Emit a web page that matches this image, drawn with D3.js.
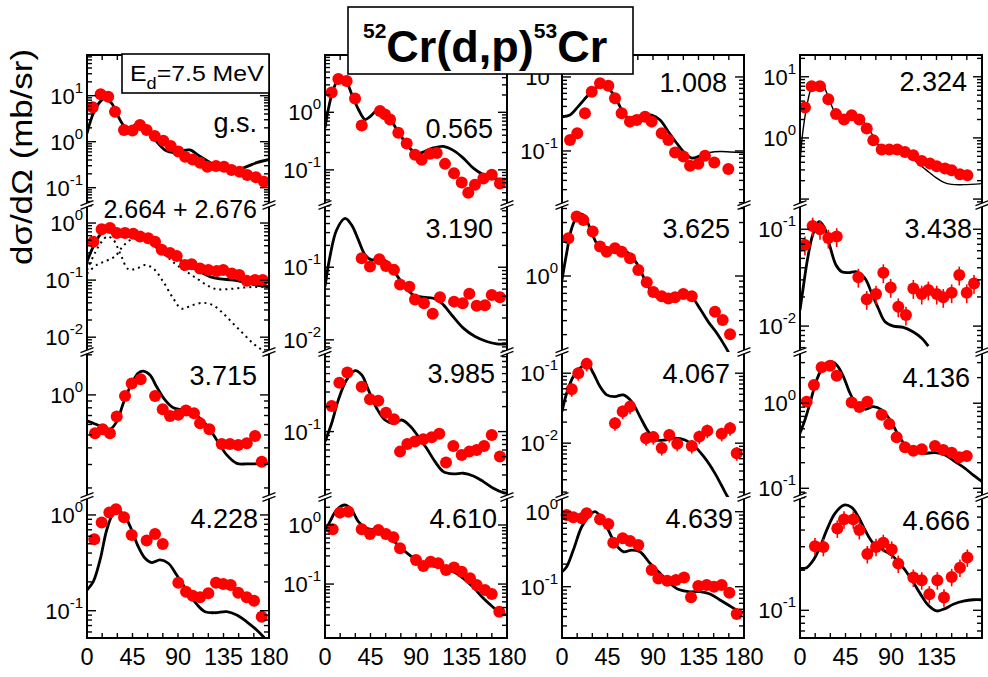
<!DOCTYPE html>
<html>
<head>
<meta charset="utf-8">
<script src="https://cdn.jsdelivr.net/npm/d3@7"></script>
<style>
  body { margin: 0; background: #fff; }
  svg { display: block; }
  text { font-family: "Liberation Sans", Arial, Helvetica, sans-serif; fill: #000; }
</style>
</head>
<body>
<svg id="fig" width="988" height="677"></svg>
<script>
// ---- angular distributions: [angle (deg, c.m.), dsigma/dOmega (mb/sr)] ----
const gsExp = [[5.6,5.6],[13.5,10.7],[21,9.5],[27.7,4.5],[36.6,1.8],[45,1.74],[52.4,2.3],[59,1.8],[67,1.33],[75.5,1.05],[82.8,0.81],[90.3,0.61],[97,0.47],[104.5,0.41],[111.8,0.35],[119,0.286],[127.6,0.296],[135.5,0.286],[143,0.243],[151,0.223],[158.5,0.189],[167,0.168],[175,0.135]];
const gsCalc = [[0,1.52],[6.2,4.1],[12.9,7.4],[17.8,8.8],[24.4,6.8],[31,3.5],[37.6,2.1],[43.2,2.0],[49.1,2.43],[54,2.5],[60.6,1.8],[68.9,1.0],[77.1,0.66],[85.3,0.58],[93.6,0.64],[101.9,0.66],[110,0.51],[120,0.37],[129.8,0.277],[138,0.234],[148,0.243],[158,0.286],[167.8,0.35],[180,0.41]];

const s0565Exp = [[6.6,2.2],[13.2,3.8],[21.4,3.5],[29.7,1.74],[36.3,0.59],[54.4,1.05],[59.3,0.92],[64.3,0.75],[72.5,0.44],[80.8,0.286],[89,0.183],[95.6,0.15],[103.8,0.19],[110.5,0.196],[118.7,0.127],[127.6,0.0875],[135.2,0.06],[141.7,0.04],[148.3,0.055],[156.6,0.071],[164.9,0.082],[173,0.058]];
const s0565Calc = [[0,0.54],[3.3,1.13],[8.2,2.5],[14.8,4.1],[19.8,3.8],[26.4,2.07],[33,1.13],[39.6,0.75],[44.5,0.84],[52.8,1.13],[59.3,1.05],[66,0.7],[74.2,0.41],[82.4,0.256],[90.7,0.19],[98.9,0.21],[107.1,0.24],[117,0.256],[126.9,0.218],[136.8,0.16],[146.7,0.107],[156.6,0.082],[164.9,0.071],[174.8,0.069],[180,0.069]];

const s1008Exp = [[7.9,0.141],[15.1,0.173],[22.7,0.323],[29.4,0.63],[37.6,0.82],[45.8,0.76],[52.4,0.515],[59,0.323],[67.2,0.249],[73.9,0.262],[82.1,0.29],[88.7,0.249],[98.6,0.173],[105.2,0.141],[111.8,0.095],[120,0.084],[126.6,0.063],[134.8,0.067],[141.4,0.086],[150.6,0.07],[164.5,0.057]];
const s1008Calc = [[0,0.29],[7.9,0.306],[16.1,0.4],[24.4,0.54],[31,0.68],[39.3,0.76],[45.8,0.7],[52.4,0.54],[59,0.36],[65.6,0.277],[72.2,0.285],[80.4,0.306],[88.7,0.306],[97,0.262],[105.2,0.182],[113.5,0.127],[121.7,0.093],[128.3,0.08],[136.5,0.086]];
const s1008CalcTail = [[136.5,0.086],[146.4,0.095],[156.3,0.098],[166.2,0.097],[180,0.095]];

const s2324Exp = [[4.9,3.15],[11.5,7.0],[19.8,7.0],[28,4.3],[35.6,2.45],[43.5,2.0],[51.1,2.35],[58.7,2.0],[66,1.43],[72.5,0.92],[80.8,0.645],[88.3,0.645],[96.2,0.645],[103.8,0.59],[112,0.52],[120.4,0.42],[128.6,0.38],[135.2,0.343],[143.4,0.315],[150,0.295],[158.2,0.254],[165.5,0.245]];
const s2324Calc = [[0,0.38],[2.6,1.18],[6.6,3.2],[11.5,6.5],[19.1,8.3],[23.7,6.9],[29.7,3.9],[36.3,2.35],[42.9,2.08],[49.5,2.27],[56.7,2.16],[64.3,1.72],[70.9,1.18],[77.5,0.76],[84.1,0.59],[92.3,0.555],[100.6,0.555],[108.8,0.49],[117,0.38],[125.3,0.295],[133.5,0.23],[141.7,0.19],[150,0.174],[161.5,0.172],[180,0.179]];

const s2664Exp = [[6.3,0.47],[14.5,0.78],[22.7,0.82],[29.4,0.67],[37.6,0.67],[45.8,0.65],[52.4,0.58],[60.6,0.54],[67.3,0.47],[73.9,0.34],[82.1,0.3],[88.7,0.265],[96.9,0.184],[103.5,0.19],[111.8,0.16],[120,0.15],[128.3,0.144],[134.8,0.15],[143.1,0.131],[150.6,0.123],[158,0.097],[166.2,0.1],[173.8,0.1]];
const s2664Calc = [[0,0.21],[6.3,0.39],[12.9,0.62],[19.5,0.78],[26,0.74],[32.6,0.68],[40.9,0.68],[49.2,0.68],[55.7,0.62],[64,0.47],[72.2,0.35],[82.1,0.29],[92,0.225],[101.9,0.177],[111.8,0.14],[121.6,0.115],[131.5,0.105],[144.7,0.1],[158,0.09],[167.8,0.082],[180,0.076]];
const s2664CalcA = [[0,0.15],[7.9,0.3],[14.5,0.47],[20.1,0.58],[26,0.51],[32.6,0.3],[40.9,0.155],[49.2,0.16],[57.4,0.184],[65.6,0.16],[75.5,0.093],[85.4,0.0475],[93.6,0.0316],[103.5,0.036],[115,0.04],[124.9,0.036],[134.8,0.026],[144.7,0.0172],[154.6,0.0115],[164.5,0.0077],[172.8,0.006],[180,0.0048]];
const s2664CalcB = [[0,0.13],[9.6,0.184],[19.5,0.22],[27.7,0.26],[35.9,0.4],[44.2,0.52],[52.4,0.54],[60.6,0.51],[68.9,0.36],[78.8,0.26],[88.7,0.184],[98.6,0.14],[108.5,0.107],[118.4,0.082],[128.3,0.069],[141.4,0.07],[154.6,0.074],[167.8,0.076],[180,0.076]];

const s3190Exp = [[36.3,0.133],[44.5,0.102],[53.7,0.129],[60.3,0.104],[68.2,0.092],[74.2,0.058],[83.4,0.054],[89,0.036],[97.9,0.032],[106.5,0.0228],[113.7,0.0386],[127.6,0.0336],[136.2,0.032],[142.7,0.043],[150,0.0294],[158.2,0.03],[164.9,0.0416],[173,0.0386]];
const s3190Calc = [[0,0.054],[4.9,0.14],[11.5,0.326],[19.8,0.47],[26.4,0.38],[33,0.238],[39.6,0.148],[46.2,0.126],[54.4,0.133],[62.6,0.113],[70.9,0.078],[79.1,0.054],[87.3,0.0416],[97.2,0.0386],[107.1,0.0374],[115.4,0.032],[125.3,0.022],[136.8,0.0145],[148.4,0.0111],[159.9,0.0095],[169.8,0.0088],[180,0.0088]];

const s3625Exp = [[6.3,2.17],[14.5,3.4],[21.1,3.16],[30.3,2.49],[37.6,1.83],[44.2,1.65],[52.4,1.77],[59,1.65],[67.3,1.44],[75.5,1.13],[83.8,0.88],[90.3,0.72],[98.6,0.66],[105.2,0.63],[111.8,0.645],[120,0.69],[128.3,0.66],[151.3,0.48],[158.9,0.405],[166.2,0.303]];
const s3625Calc = [[0,0.92],[4.6,1.6],[9.6,2.67],[16.1,3.5],[21.1,3.5],[27.7,2.67],[34.3,1.96],[40.9,1.71],[49.2,1.71],[57.4,1.77],[65.6,1.6],[73.9,1.3],[82.1,0.92],[88,0.74],[93.7,0.65],[101.9,0.63],[110.1,0.68],[120,0.7],[128.3,0.65],[136.5,0.51],[144.7,0.39],[153,0.31],[161.2,0.237],[170,0.17]];

const s3438Exp = [[4.9,0.0688],[12.5,0.108],[19.8,0.1],[28,0.081],[36.3,0.084],[57.7,0.032],[66,0.0189],[75.2,0.0214],[82.4,0.0356],[89.7,0.0251],[97.2,0.0158],[104.8,0.013],[112.1,0.0245],[120.4,0.0214],[126.9,0.0236],[135.2,0.0214],[141.7,0.0198],[150,0.0221],[157.5,0.0337],[164.9,0.0221],[172.1,0.0276]];
const s3438Calc = [[0,0.0146],[3.3,0.0255],[7.3,0.048],[12.5,0.087],[18.8,0.12],[23.7,0.106],[29.7,0.066],[35.6,0.0427],[41.2,0.0364],[47.8,0.0356],[56,0.0364],[64.3,0.0311],[70.9,0.0218],[77.5,0.0152],[84.1,0.0111],[92.3,0.01],[102.2,0.0097],[112.1,0.0087],[120.4,0.0075],[126.9,0.0062]];

const s3715Exp = [[7.9,0.515],[15.5,0.552],[22.7,0.515],[29.4,0.687],[37.6,0.98],[44.2,1.22],[53.1,1.31],[67.3,0.98],[74.9,0.78],[82.1,0.695],[90.3,0.71],[97.9,0.762],[105.8,0.728],[111.8,0.612],[121,0.552],[133.2,0.428],[141.4,0.428],[149.6,0.42],[158,0.433],[166.2,0.492],[172.8,0.315]];
const s3715Calc = [[0,0.64],[7.9,0.605],[16.1,0.572],[22.7,0.552],[29.4,0.63],[35.9,0.867],[44.2,1.22],[50.7,1.46],[55.7,1.51],[62.3,1.41],[68.9,1.15],[77.1,0.917],[85.4,0.8],[95.2,0.77],[103.5,0.736],[111.8,0.668],[120,0.572],[128.3,0.459],[138.2,0.354],[148.1,0.306],[158,0.303],[180,0.306]];

const s3985Exp = [[6.6,0.204],[14.2,0.389],[22.1,0.514],[36.3,0.348],[44.5,0.245],[52.7,0.236],[60.3,0.169],[68.2,0.141],[74.2,0.0574],[81.4,0.0711],[89,0.0759],[97.2,0.081],[105.5,0.0857],[113,0.094],[119.7,0.0424],[126.9,0.0673],[135.2,0.0524],[142.7,0.0574],[150,0.0602],[157.3,0.0673],[164.9,0.0912],[173,0.05]];
const s3985Calc = [[0,0.0759],[6.6,0.126],[13.2,0.241],[21.4,0.42],[29.7,0.543],[36.3,0.482],[42.9,0.318],[51.1,0.191],[59.3,0.138],[67.6,0.126],[75.8,0.138],[84.1,0.117],[92.3,0.087],[100.5,0.063],[108.8,0.0435],[117,0.033],[126.9,0.0309],[136.8,0.0315],[146.7,0.0292],[156.6,0.025],[166.5,0.0208],[176.3,0.0184],[180,0.0181]];

const s4067Exp = [[9.6,0.059],[16.1,0.1],[24.4,0.136],[52.4,0.0193],[60,0.0283],[67.3,0.0333],[83.1,0.0118],[90.3,0.0122],[98.6,0.0085],[106.1,0.0131],[114,0.0098],[128.3,0.0091],[135.8,0.0124],[143.7,0.0151],[157.9,0.0136],[166.2,0.0164],[172.8,0.0072]];
const s4067Calc = [[0,0.0283],[4.6,0.0518],[11.2,0.0895],[19.5,0.124],[25,0.136],[31,0.1],[37.6,0.0644],[44.2,0.049],[52.4,0.0463],[60.6,0.049],[68.9,0.0393],[77.1,0.024],[85.4,0.0146],[93.7,0.0111],[101.9,0.0111],[111.8,0.0118],[121.7,0.0111],[131.5,0.0089],[141.4,0.0061],[151.3,0.0037],[161.2,0.002],[165,0.0016]];

const s4136Exp = [[6.6,1.04],[13.8,1.64],[21.4,2.65],[29.7,2.75],[36.3,2.1],[51.1,1.02],[58.7,0.9],[66.6,1.04],[80.8,0.73],[88.3,0.57],[95.6,0.398],[103.8,0.304],[112.1,0.277],[120.4,0.288],[133.5,0.315],[141.7,0.282],[150,0.262],[157.5,0.232],[164.9,0.24]];
const s4136Calc = [[0,0.444],[4.9,0.637],[9.9,1.0],[16.5,1.88],[23.1,2.7],[29.7,3.09],[36.3,2.82],[42.9,2.06],[49.5,1.31],[56.1,0.955],[64.3,0.85],[72.5,0.91],[80.8,0.834],[89,0.637],[97.2,0.424],[105.5,0.308],[113.7,0.27],[122,0.258],[133.5,0.262],[143.4,0.247],[153.3,0.206],[163.2,0.172],[171.4,0.143],[178,0.125],[180,0.12]];

const s4228Exp = [[7.2,0.557],[14.5,0.832],[22.1,1.06],[28.7,1.15],[36.6,0.946],[44.2,0.618],[59,0.54],[67.3,0.633],[74.9,0.498],[90.3,0.196],[97.9,0.158],[104.5,0.143],[111.8,0.138],[120,0.152],[127.6,0.196],[134.8,0.19],[142.1,0.186],[149.6,0.154],[158,0.138],[165.2,0.127],[172.8,0.0865]];
const s4228Calc = [[0,0.164],[6.2,0.201],[12.9,0.339],[19.5,0.697],[26,1.04],[31,1.11],[37.6,0.96],[44.2,0.697],[50.7,0.467],[57.4,0.353],[64,0.318],[72.2,0.339],[80.4,0.313],[88.7,0.236],[98.6,0.164],[108.5,0.117],[116.7,0.0977],[126.6,0.0953],[138.2,0.0977],[148.1,0.0902],[158,0.0767],[167.8,0.0629],[174.4,0.0535],[180,0.045]];

const s4610Exp = [[7.6,0.845],[14.8,1.62],[23.1,1.68],[36.3,0.845],[44.5,0.704],[52.8,0.823],[60.3,0.704],[67.6,0.618],[74.2,0.403],[90,0.255],[97.3,0.202],[104.5,0.239],[112.1,0.224],[119.7,0.173],[127.6,0.191],[135.2,0.162],[143.4,0.125],[150,0.096],[158.2,0.079],[164.9,0.0677],[172.4,0.034]];
const s4610Calc = [[0,0.77],[4.9,1.14],[11.5,1.8],[19.8,2.18],[26.4,1.8],[33,1.14],[41.2,0.879],[49.4,0.823],[57.7,0.723],[66,0.572],[74.2,0.429],[82.4,0.322],[90.7,0.255],[98.9,0.218],[107.1,0.202],[117,0.184],[126.9,0.162],[136.8,0.125],[146.7,0.088],[156.6,0.0573],[164.9,0.0424],[173.1,0.0327],[180,0.0298]];

const s4639Exp = [[4.6,0.904],[11.2,0.841],[19.5,0.817],[24.4,0.952],[37.6,0.792],[45.8,0.685],[50.7,0.386],[60,0.442],[67.3,0.407],[75.5,0.36],[88.7,0.167],[95.3,0.129],[104,0.12],[112.7,0.123],[120.7,0.133],[127.6,0.0722],[134.8,0.102],[143.1,0.105],[150.3,0.1],[157.9,0.105],[165.5,0.083],[172.8,0.0433]];
const s4639Calc = [[0,0.158],[4.6,0.185],[11.2,0.308],[19.5,0.63],[27.7,0.904],[32.6,1.0],[39.3,0.817],[45.8,0.57],[52.4,0.379],[60.6,0.293],[68.9,0.308],[77.1,0.293],[87,0.205],[96.9,0.151],[106.8,0.111],[115,0.0923],[124.9,0.0858],[136.5,0.0858],[146.4,0.08],[156.3,0.0665],[164.5,0.057],[172.8,0.0489],[180,0.045]];

const s4666Exp = [[14.8,0.303],[23.1,0.299],[36.9,0.411],[43.5,0.481],[52.7,0.481],[58.7,0.4],[66.6,0.264],[75.2,0.299],[82.4,0.321],[90.7,0.286],[97.2,0.224],[112.1,0.176],[120.4,0.168],[127.9,0.132],[135.8,0.168],[142.4,0.125],[150,0.178],[158.2,0.209],[165.5,0.249]];
const s4666Calc = [[0,0.206],[6.6,0.209],[13.2,0.238],[19.8,0.299],[26.4,0.4],[34.6,0.533],[43.5,0.616],[51.1,0.592],[57.7,0.503],[64.3,0.4],[72.5,0.318],[82.4,0.283],[90.7,0.259],[98.9,0.224],[108.8,0.178],[118.7,0.134],[126.9,0.109],[135.2,0.0989],[143.4,0.103],[151.6,0.111],[161.5,0.117],[171.4,0.12],[180,0.12]];

// ---- axis tick values ----
const angleTicks = d3.range(0, 181, 15);
const angleTickLabels = [0, 45, 90, 135, 180];

// ---- grid geometry ----
const W = 988, H = 677;
const colX = [[87, 269], [325, 507], [562, 744], [800, 982]];
const rowY = [[55, 205], [205, 352], [352, 497], [497, 638]];

// one entry per state: data, y range (mb/sr), labelled decades, label placement
const panels = [
  {label: "g.s.", exp: gsExp, calc: [{d: gsCalc}], yDom: [0.042, 76.7], decades: [1, 0, -1], row: 0, col: 0, lr: 12, lb: 77},
  {label: "0.565", exp: s0565Exp, calc: [{d: s0565Calc}], yDom: [0.0245, 9.9], decades: [0, -1], row: 0, col: 1, lr: 14, lb: 83},
  {label: "1.008", exp: s1008Exp, calc: [{d: s1008Calc}, {d: s1008CalcTail, w: 1.5}], yDom: [0.0186, 1.98], decades: [0, -1], row: 0, col: 2, lr: 17, lb: 37},
  {label: "2.324", exp: s2324Exp, calc: [{d: s2324Calc, w: 1.4}], yDom: [0.08, 22.7], decades: [1, 0], row: 0, col: 3, lr: 15, lb: 36},
  {label: "2.664 + 2.676", fs: 25, exp: s2664Exp, calc: [{d: s2664CalcA, w: 2, dash: "2,4"}, {d: s2664CalcB, w: 2, dash: "2,4"}, {d: s2664Calc}], yDom: [0.0055, 2.07], decades: [0, -1, -2], row: 1, col: 0, lr: 12, lb: 13},
  {label: "3.190", exp: s3190Exp, calc: [{d: s3190Calc}], yDom: [0.0068, 0.72], decades: [-1, -2], row: 1, col: 1, lr: 14, lb: 33},
  {label: "3.625", exp: s3625Exp, calc: [{d: s3625Calc}], yDom: [0.21, 4.3], decades: [0], row: 1, col: 2, lr: 14, lb: 33},
  {label: "3.438", exp: s3438Exp, calc: [{d: s3438Calc}], yDom: [0.0054, 0.178], decades: [-1, -2], row: 1, col: 3, lr: 10, lb: 33, err: 0.22},
  {label: "3.715", exp: s3715Exp, calc: [{d: s3715Calc}], yDom: [0.171, 2.1], decades: [0], row: 2, col: 0, lr: 12, lb: 33},
  {label: "3.985", exp: s3985Exp, calc: [{d: s3985Calc}], yDom: [0.0163, 0.91], decades: [-1], row: 2, col: 1, lr: 12, lb: 31, err: 0.1},
  {label: "4.067", exp: s4067Exp, calc: [{d: s4067Calc}], yDom: [0.0017, 0.201], decades: [-1, -2], row: 2, col: 2, lr: 14, lb: 31, err: 0.22},
  {label: "4.136", exp: s4136Exp, calc: [{d: s4136Calc}], yDom: [0.079, 4.0], decades: [0, -1], row: 2, col: 3, lr: 12, lb: 35},
  {label: "4.228", exp: s4228Exp, calc: [{d: s4228Calc}], yDom: [0.0519, 1.54], decades: [0, -1], row: 3, col: 0, lr: 11, lb: 31, err: 0.08},
  {label: "4.610", exp: s4610Exp, calc: [{d: s4610Calc}], yDom: [0.0122, 2.98], decades: [0, -1], row: 3, col: 1, lr: 10, lb: 31},
  {label: "4.639", exp: s4639Exp, calc: [{d: s4639Calc}], yDom: [0.0207, 1.57], decades: [0, -1], row: 3, col: 2, lr: 11, lb: 31, err: 0.12},
  {label: "4.666", exp: s4666Exp, calc: [{d: s4666Calc}], yDom: [0.062, 0.708], decades: [-1], row: 3, col: 3, lr: 12, lb: 33, err: 0.15}
];

const svg = d3.select("#fig");
const defs = svg.append("defs");
const RED = "#ff0000";

function logTicks(lo, hi) {
  const out = [];
  for (let k = Math.floor(Math.log10(lo)); k <= Math.ceil(Math.log10(hi)); k++) {
    for (let m = 1; m <= 9; m++) {
      const v = m * Math.pow(10, k);
      if (v >= lo * 1.0001 && v <= hi / 1.0001) out.push({v, major: m === 1});
    }
  }
  return out;
}

panels.forEach((p, i) => {
  const [x0, x1] = colX[p.col];
  const [yTop, yBot] = rowY[p.row];
  const x = d3.scaleLinear().domain([0, 180]).range([x0, x1]);
  const y = d3.scaleLog().domain(p.yDom).range([yBot, yTop]);
  const g = svg.append("g").attr("class", "panel");

  defs.append("clipPath").attr("id", "clip" + i)
    .append("rect").attr("x", x0).attr("y", yTop).attr("width", x1 - x0).attr("height", yBot - yTop);

  // calculated curves
  const line = d3.line().x(d => x(d[0])).y(d => y(d[1])).curve(d3.curveCatmullRom.alpha(0.5));
  const cg = g.append("g").attr("clip-path", `url(#clip${i})`);
  p.calc.forEach(c => {
    cg.append("path").attr("d", line(c.d)).attr("fill", "none")
      .attr("stroke", "#000").attr("stroke-width", c.w || 2.8)
      .attr("stroke-dasharray", c.dash || null)
      .attr("stroke-linejoin", "round");
  });

  // measured points with error bars
  const err = p.err || 0.05;
  const pg = g.append("g");
  pg.selectAll("line.err").data(p.exp).join("line").attr("class", "err")
    .attr("x1", d => x(d[0])).attr("x2", d => x(d[0]))
    .attr("y1", d => y(d[1] * (1 + err))).attr("y2", d => y(d[1] * (1 - err)))
    .attr("stroke", RED).attr("stroke-width", 1.6);
  pg.selectAll("circle").data(p.exp).join("circle")
    .attr("cx", d => x(d[0])).attr("cy", d => y(d[1])).attr("r", 6).attr("fill", RED);

  // frame
  const ax = g.append("g").attr("stroke", "#000").attr("stroke-width", 2).attr("fill", "none");
  ax.append("line").attr("x1", x0).attr("x2", x0).attr("y1", yTop).attr("y2", yBot);
  ax.append("line").attr("x1", x1).attr("x2", x1).attr("y1", yTop).attr("y2", yBot);
  if (p.row === 0) ax.append("line").attr("x1", x0 - 1).attr("x2", x1 + 1).attr("y1", yTop).attr("y2", yTop);
  if (p.row === 3) ax.append("line").attr("x1", x0 - 1).attr("x2", x1 + 1).attr("y1", yBot).attr("y2", yBot);

  // log ticks on both vertical axes
  const tk = g.append("g").attr("stroke", "#000").attr("stroke-width", 1.4);
  logTicks(p.yDom[0], p.yDom[1]).forEach(t => {
    const yy = y(t.v), len = t.major ? 9 : 5;
    tk.append("line").attr("x1", x0).attr("x2", x0 + len).attr("y1", yy).attr("y2", yy);
    tk.append("line").attr("x1", x1).attr("x2", x1 - len).attr("y1", yy).attr("y2", yy);
  });

  // angle ticks on the outer horizontal axes
  angleTicks.forEach(a => {
    if (p.row === 0) tk.append("line").attr("x1", x(a)).attr("x2", x(a)).attr("y1", yTop).attr("y2", yTop + 5);
    if (p.row === 3) tk.append("line").attr("x1", x(a)).attr("x2", x(a)).attr("y1", yBot).attr("y2", yBot - 5);
  });

  // decade labels
  p.decades.forEach(k => {
    const yy = y(Math.pow(10, k));
    const t = g.append("text").attr("x", x0 - 4).attr("y", yy + 8)
      .attr("text-anchor", "end").attr("font-size", 22).text("10");
    t.append("tspan").attr("dy", -11).attr("font-size", 15).text(String(k));
  });

  // angle labels below the bottom row
  if (p.row === 3) {
    angleTickLabels.forEach(a => {
      if (x(a) + 18 > W) return;
      g.append("text").attr("x", x(a)).attr("y", 665).attr("text-anchor", "middle")
        .attr("font-size", 23.5).text(a);
    });
  }

  // excitation energy label
  g.append("text").attr("x", x1 - p.lr).attr("y", yTop + p.lb)
    .attr("text-anchor", "end").attr("font-size", p.fs || 27).text(p.label);
});

// axis breaks between stacked rows
const brk = svg.append("g");
[205, 352, 497].forEach(yb => {
  colX.forEach(([x0, x1]) => {
    [x0, x1].forEach(xa => {
      brk.append("path")
        .attr("d", `M${xa - 6.5},${yb + 0.5} L${xa + 6.5},${yb - 4.5} L${xa + 6.5},${yb - 1} L${xa - 6.5},${yb + 4} Z`)
        .attr("fill", "#fff");
      [-1.8, 1.8].forEach(o => {
        brk.append("line")
          .attr("x1", xa - 6.5).attr("y1", yb + o + 2.5)
          .attr("x2", xa + 6.5).attr("y2", yb + o - 2.5)
          .attr("stroke", "#000").attr("stroke-width", 1.3);
      });
    });
  });
});

// beam-energy box in the first panel
svg.append("rect").attr("x", 122).attr("y", 54).attr("width", 147).attr("height", 39)
  .attr("fill", "#fff").attr("stroke", "#000").attr("stroke-width", 1.6);
const eb = svg.append("text").attr("transform", "translate(130,81) scale(1.13,1)").attr("font-size", 22);
eb.append("tspan").text("E");
eb.append("tspan").attr("dy", 8).attr("font-size", 16).text("d");
eb.append("tspan").attr("dy", -8).text("=7.5 MeV");

// y-axis title
svg.append("text").attr("transform", "translate(32,157) rotate(-90)")
  .attr("text-anchor", "middle").attr("font-size", 30)
  .attr("textLength", 216).attr("lengthAdjust", "spacingAndGlyphs")
  .text("d\u03c3/d\u03a9  (mb/sr)");

// reaction title
svg.append("rect").attr("x", 348).attr("y", 7).attr("width", 285).attr("height", 67)
  .attr("fill", "#fff").attr("stroke", "#000").attr("stroke-width", 1.6);
const tt = svg.append("text").attr("x", 363).attr("y", 62).attr("font-weight", "bold").attr("font-size", 45);
tt.append("tspan").attr("font-size", 21).attr("dy", -24).text("52");
tt.append("tspan").attr("dy", 24).text("Cr(d,p)");
tt.append("tspan").attr("font-size", 21).attr("dy", -24).text("53");
tt.append("tspan").attr("dy", 24).text("Cr");
</script>
</body>
</html>
